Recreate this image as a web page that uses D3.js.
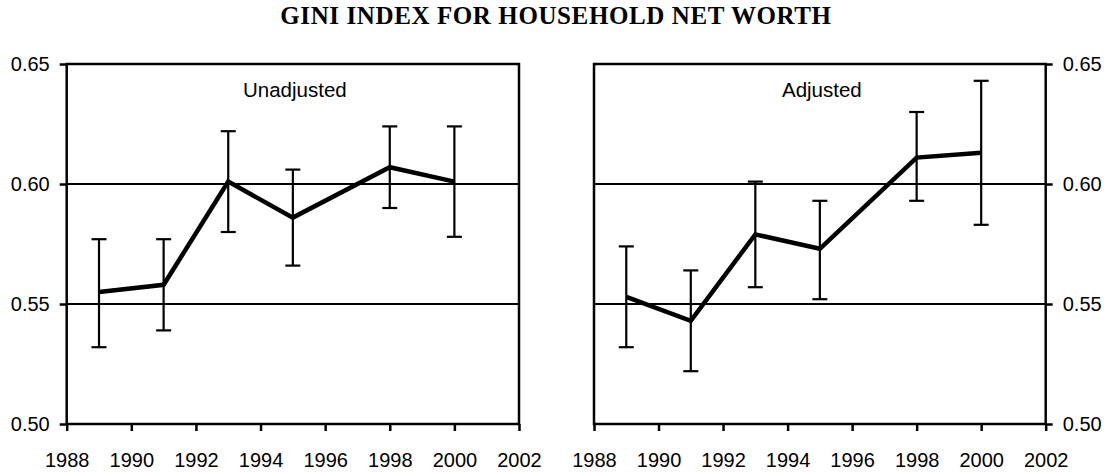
<!DOCTYPE html>
<html>
<head>
<meta charset="utf-8">
<script src="https://cdn.jsdelivr.net/npm/d3@7"></script>
<style>
body { margin: 0; background: #fff; }
svg { display: block; }
text { font-family: "Liberation Sans", Arial, sans-serif; }
</style>
</head>
<body>
<div></div>
<script>
// data
let years = [1989, 1991, 1993, 1995, 1998, 2000];
let unadjValue = [0.555, 0.558, 0.601, 0.586, 0.607, 0.601];
let unadjHigh = [0.577, 0.577, 0.622, 0.606, 0.624, 0.624];
let unadjLow = [0.532, 0.539, 0.580, 0.566, 0.590, 0.578];
let adjValue = [0.553, 0.543, 0.579, 0.573, 0.611, 0.613];
let adjHigh = [0.574, 0.564, 0.601, 0.593, 0.630, 0.643];
let adjLow = [0.532, 0.522, 0.557, 0.552, 0.593, 0.583];
let xTicks = [1988, 1990, 1992, 1994, 1996, 1998, 2000, 2002];
let yTicks = [0.50, 0.55, 0.60, 0.65];

let svgWidth = 1109;
let svgHeight = 472;

let svg = d3.select("body div")
    .append("svg")
    .attr("width", svgWidth)
    .attr("height", svgHeight);

svg.append("text")
    .attr("x", 556)
    .attr("y", 24)
    .attr("text-anchor", "middle")
    .style("font-family", "'Liberation Serif', 'Times New Roman', serif")
    .style("font-weight", "bold")
    .style("font-size", "25px")
    .style("letter-spacing", "0.6px")
    .text("GINI INDEX FOR HOUSEHOLD NET WORTH");

function panel(x0, x1, label, vals, hi, lo, axisSide)
{
	let x = d3.scaleLinear().domain([1988, 2002]).range([x0, x1]);
	let y = d3.scaleLinear().domain([0.50, 0.65]).range([424, 64]);
	let g = svg.append("g");

	// gridlines
	g.selectAll("line.grid")
	 .data([0.55, 0.60])
	 .enter().append("line")
	 .attr("x1", x0).attr("x2", x1)
	 .attr("y1", d => y(d)).attr("y2", d => y(d))
	 .attr("stroke", "#000").attr("stroke-width", 2);

	// frame
	g.append("rect")
	 .attr("x", x0).attr("y", y(0.65))
	 .attr("width", x1 - x0).attr("height", y(0.50) - y(0.65))
	 .attr("fill", "none").attr("stroke", "#000").attr("stroke-width", 2.5);

	// x axis
	let xa = g.append("g")
	 .attr("transform", "translate(0," + y(0.50) + ")")
	 .call(d3.axisBottom(x).tickValues(xTicks).tickFormat(d3.format("d")).tickSize(7).tickPadding(22));
	xa.select(".domain").remove();
	xa.selectAll("line").attr("stroke-width", 2.5);
	xa.selectAll("text").style("font-size", "20px").attr("font-family", "Liberation Sans, Arial, sans-serif");

	// y axis
	let yAxis = axisSide == "left" ? d3.axisLeft(y) : d3.axisRight(y);
	let ya = g.append("g")
	 .attr("transform", "translate(" + (axisSide == "left" ? x0 : x1) + ",0)")
	 .call(yAxis.tickValues(yTicks).tickFormat(d3.format(".2f")).tickSize(7).tickPadding(10));
	ya.select(".domain").remove();
	ya.selectAll("line").attr("stroke-width", 2.5);
	ya.selectAll("text").style("font-size", "20px").attr("font-family", "Liberation Sans, Arial, sans-serif");

	// panel label
	g.append("text")
	 .attr("x", (x0 + x1) / 2 + 2)
	 .attr("y", 97)
	 .attr("text-anchor", "middle")
	 .style("font-size", "20.5px")
	 .text(label);

	// error bars
	let capHalf = 7.5;
	years.forEach(function(yr, i) {
		g.append("line")
		 .attr("x1", x(yr)).attr("x2", x(yr))
		 .attr("y1", y(hi[i])).attr("y2", y(lo[i]))
		 .attr("stroke", "#000").attr("stroke-width", 2.2);
		[hi[i], lo[i]].forEach(function(v) {
			g.append("line")
			 .attr("x1", x(yr) - capHalf).attr("x2", x(yr) + capHalf)
			 .attr("y1", y(v)).attr("y2", y(v))
			 .attr("stroke", "#000").attr("stroke-width", 2.2);
		});
	});

	// series line
	let line = d3.line().x((d, i) => x(years[i])).y(d => y(d));
	g.append("path")
	 .datum(vals)
	 .attr("d", line)
	 .attr("fill", "none")
	 .attr("stroke", "#000")
	 .attr("stroke-width", 4.5)
	 .attr("stroke-linejoin", "miter");
}

panel(66.7, 519, "Unadjusted", unadjValue, unadjHigh, unadjLow, "left");
panel(594, 1045.7, "Adjusted", adjValue, adjHigh, adjLow, "right");
</script>
</body>
</html>
